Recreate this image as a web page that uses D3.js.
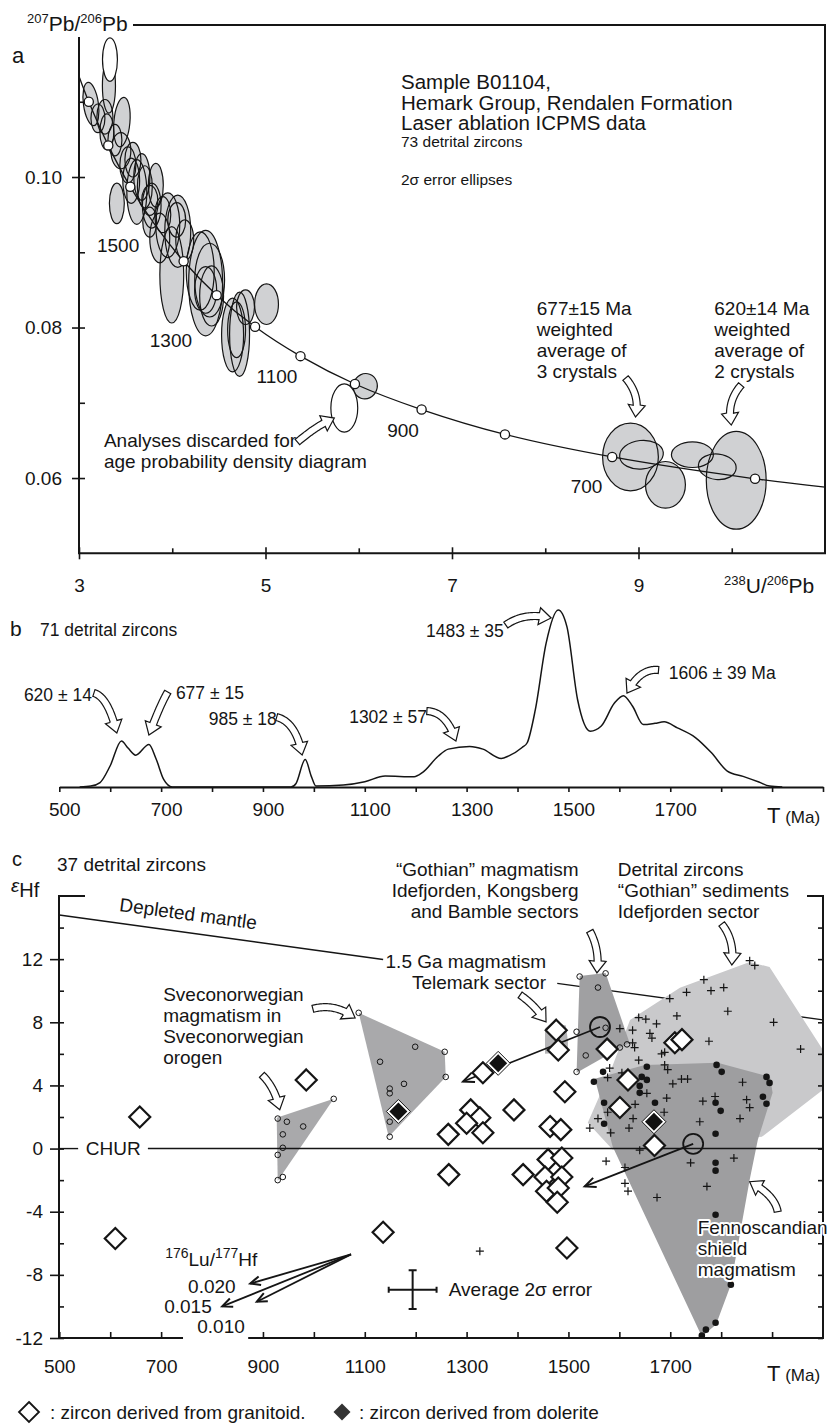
<!DOCTYPE html>
<html>
<head>
<meta charset="utf-8">
<script src="https://cdn.jsdelivr.net/npm/d3@7"></script>
<style>
  body { margin: 0; background: #fff; }
  svg { display: block; }
  text { font-family: "Liberation Sans", Arial, Helvetica, sans-serif; fill: #151515; }
</style>
</head>
<body>
<script>
// ---------- panel a : Tera-Wasserburg concordia ----------
const concAge = [1855, 1800, 1700, 1600, 1500, 1400, 1300, 1200, 1100, 1000, 900, 800, 700, 600, 561];
const concU   = [3.00, 3.105, 3.314, 3.550, 3.817, 4.122, 4.476, 4.888, 5.375, 5.959, 6.674, 7.568, 8.718, 10.25, 11.0];
const concPb  = [0.1134, 0.1100, 0.1042, 0.0987, 0.0936, 0.0888, 0.0843, 0.0801, 0.0762, 0.0725, 0.0691, 0.0658, 0.0628, 0.0599, 0.0588];
const markedAges = [1800, 1700, 1600, 1400, 1300, 1200, 1100, 1000, 900, 800, 700, 600];

// 2 sigma error ellipses: centre, half axes, tilt (deg)
const ellU   = [3.321,3.128,3.278,3.460,3.299,3.449,3.524,3.406,3.620,3.674,3.706,3.824,3.759,3.952,4.059,4.048,3.866,3.995,4.358,4.401,4.358,4.647,4.722,4.786,5.011,6.070,8.914,9.032,9.289,9.578,10.048,9.845,3.203,3.385,3.578,3.759,3.898,4.134,4.422,4.690,3.560,3.780,4.300];
const ellPb  = [0.1121,0.1097,0.1080,0.1073,0.1060,0.1035,0.1016,0.0965,0.0980,0.1000,0.0987,0.0989,0.0940,0.0936,0.0928,0.0943,0.0919,0.0870,0.0859,0.0863,0.0850,0.0790,0.0791,0.0827,0.0831,0.0722,0.0628,0.0631,0.0591,0.0631,0.0597,0.0615,0.1078,0.1049,0.1023,0.0969,0.0950,0.0916,0.0842,0.0797,0.0995,0.0962,0.0875];
const ellRu  = [0.070,0.080,0.086,0.086,0.075,0.107,0.086,0.080,0.107,0.086,0.080,0.080,0.075,0.128,0.139,0.096,0.107,0.128,0.182,0.160,0.118,0.118,0.107,0.096,0.128,0.128,0.299,0.235,0.214,0.225,0.321,0.203,0.075,0.075,0.086,0.086,0.086,0.096,0.128,0.096,0.090,0.100,0.150];
const ellRpb = [0.0036,0.0029,0.0023,0.0033,0.0024,0.0024,0.0024,0.0027,0.0043,0.0031,0.0028,0.0029,0.0020,0.0043,0.0048,0.0023,0.0033,0.0064,0.0070,0.0049,0.0031,0.0049,0.0056,0.0023,0.0027,0.0017,0.0045,0.0019,0.0031,0.0017,0.0065,0.0017,0.0019,0.0021,0.0023,0.0020,0.0024,0.0027,0.0040,0.0037,0.0030,0.0030,0.0052];
const ellRot = [0,-8,0,5,0,0,0,0,0,0,0,0,0,0,0,0,0,0,0,0,0,0,0,0,0,20,0,-6,0,0,0,6,0,0,0,0,0,0,0,0,0,0,0];
// discarded analyses (white)
const discU = [3.332, 5.845], discPb = [0.1156, 0.0693], discRu = [0.080, 0.144], discRpb = [0.0029, 0.0032];

const xTicksA = [3, 5, 7, 9], xMinorA = [4, 6, 8, 10];
const yTicksA = [0.06, 0.08, 0.10], yMinorA = [0.07, 0.09, 0.11];

// ---------- panel b : age probability density ----------
const densT = [540,562,580,600,622,635,650,676,690,705,722,800,955,965,983,995,1004,1058,1100,1140,1197,1213,1244,1264,1306,1332,1368,1383,1409,1419,1435,1456,1480,1497,1518,1543,1564,1590,1608,1626,1647,1670,1688,1714,1750,1781,1812,1843,1874,1895,1920];
const densH = [0,0.5,2.5,12,26,22,18,24,16,4.3,0,0,0,2,15.6,6,0.5,1.1,3,6.2,5.8,8.1,17.4,21.4,22.9,21.4,16.1,17.6,22.3,25,43.7,81,100,90.6,49.3,31.5,34.3,47.3,51.6,45.6,35.3,36,36.8,33.4,27.8,19.3,9,6,2.8,0.5,0];
const xTicksB = [500,600,700,800,900,1000,1100,1200,1300,1400,1500,1600,1700,1800,1900,2000];
const xLabelsB = [500, 700, 900, 1100, 1300, 1500, 1700];

// ---------- panel c : epsilon Hf vs age ----------
const granT = [658,610,1136,985,1476,1480,1332,1576,1493,1308,1326,1393,1300,1264,1332,1464,1485,1617,1601,1669,1709,1723,1265,1411,1460,1487,1454,1487,1457,1480,1478,1497];
const granE = [2.0,-5.7,-5.3,4.35,7.5,6.25,4.8,6.3,3.6,2.45,1.95,2.45,1.6,0.9,1.0,1.4,1.2,4.35,2.6,0.2,6.7,6.9,-1.65,-1.65,-0.7,-0.6,-1.8,-1.8,-2.7,-2.5,-3.4,-6.3];
const dolT = [1166, 1362, 1668];
const dolE = [2.35, 5.4, 1.7];
const sveT = [929,947,979,939,939,929,939,929,1039, 1088,1130,1199,1177,1149,1149,1149,1149,1257,1259, 1522,1573,1558,1516,1534,1573,1516,1601,1615];
const sveE = [1.9,1.7,1.4,0.9,0.05,-0.4,-1.8,-2.0,3.15, 8.6,5.5,6.45,4.1,3.8,3.5,1.7,0.75,6.13,4.54, 10.9,11.1,10.2,7.4,5.9,7.65,4.86,6.4,6.6];
const fennT = [1791,1801,1889,1895,1889,1882,1654,1644,1654,1640,1640,1568,1550,1670,1570,1570,1789,1799,1789,1789,1789,1789,1819,1789,1770,1762];
const fennE = [5.3,4.86,4.54,4.16,2.84,3.28,5.18,4.54,4.35,3.97,3.53,4.86,4.23,2.9,2.9,1.57,2.9,2.39,0.94,-0.9,-1.4,-4.19,-8.62,-11.03,-11.47,-11.85];
const detT = [1856,1866,1766,1732,1780,1805,1699,1713,1813,1903,1956,1638,1652,1673,1601,1626,1660,1664,1626,1630,1776,1683,1689,1638,1689,1695,1581,1577,1605,1722,1734,1705,1842,1654,1693,1764,1788,1850,1856,1542,1558,1577,1619,1583,1627,1631,1688,1758,1837,1640,1574,1611,1740,1825,1772,1611,1617,1674,1326];
const detE = [11.9,11.6,10.7,9.9,10.0,10.2,9.5,8.4,8.7,8.0,6.3,8.3,8.2,7.9,7.6,7.5,7.3,7.0,6.7,6.4,6.8,6.0,6.1,5.6,5.3,5.0,5.1,4.5,4.8,4.4,4.4,4.1,4.2,3.5,3.2,3.0,3.3,3.1,2.6,1.3,1.9,2.3,1.3,1.0,1.9,2.8,2.3,1.7,1.9,-0.1,-0.8,-1.2,-0.9,-0.6,-2.4,-2.2,-2.7,-3.1,-6.5];
const polySveA = [[927,1.95],[1039,3.15],[929,-2.04]];
const polySveB = [[1088,8.6],[1257,6.13],[1259,4.54],[1147,0.75]];
const polyGoth = [[1522,10.94],[1573,11.13],[1620,6.7],[1516,4.8]];
const polyTele = [[1454,7.6],[1468,8.0],[1495,7.8],[1499,6.8],[1499,6.1],[1454,6.0]];
const polyDetr = [[1538,1.63],[1585,5.11],[1621,8.15],[1719,10.18],[1856,11.82],[1895,11.5],[2000,6.25],[2000,3.72],[1880,0.75],[1587,-0.08]];
const polyFenn = [[1552,4.42],[1650,5.3],[1793,5.43],[1896,4.54],[1901,3.53],[1872,0.56],[1856,-1.97],[1819,-8.62],[1790,-11.15],[1762,-11.9],[1587,0.11]];
const depletedMantle = [[500, 14.8], [2000, 8.15]];
const hfMeans = [[1562, 7.7], [1745, 0.3]];
const hfMeanShift = [[1293, 4.25], [1532, -2.4]];
const luOrigin = [1073, -6.7];
const luTips = [[875, -8.55], [820, -10.0], [888, -9.7]];
const errCentre = [1194, -8.94], errT = 47, errE = 1.23;
const yTicksC = [-12, -8, -4, 0, 4, 8, 12], yMinorC = [-10, -6, -2, 2, 6, 10, 14];
const xTicksC = [500,600,700,900,1000,1100,1200,1300,1400,1500,1600,1700,1800,1900];
const xLabelsC = [500, 700, 900, 1100, 1300, 1500, 1700];

// ================================================================
const W = 827, H = 1425, ink = '#151515';
const svg = d3.select('body').append('svg').attr('width', W).attr('height', H);

function block(g, x, y, arr, size, lh, anchor) {
  const t = g.append('text').attr('x', x).attr('y', y).attr('font-size', size)
    .attr('text-anchor', anchor || 'start');
  arr.forEach((s, i) => t.append('tspan').attr('x', x).attr('dy', i ? lh : 0).text(s));
  return t;
}

// hollow curved arrow along a quadratic curve
function fatArrow(g, p0, p1, p2, sw, hw, hl) {
  sw = sw || 7; hw = hw || 17; hl = hl || 12;
  const n = 40;
  const pts = d3.range(n + 1).map(i => {
    const t = i / n, u = 1 - t;
    return [u*u*p0[0] + 2*u*t*p1[0] + t*t*p2[0], u*u*p0[1] + 2*u*t*p1[1] + t*t*p2[1]];
  });
  const len = [0];
  for (let i = 1; i <= n; i++) len.push(len[i-1] + Math.hypot(pts[i][0]-pts[i-1][0], pts[i][1]-pts[i-1][1]));
  const stop = len[n] - hl, shaft = [];
  for (let i = 0; i <= n; i++) {
    if (len[i] < stop) { shaft.push(pts[i]); continue; }
    const f = (stop - len[i-1]) / (len[i] - len[i-1]);
    shaft.push([pts[i-1][0] + f*(pts[i][0]-pts[i-1][0]), pts[i-1][1] + f*(pts[i][1]-pts[i-1][1])]);
    break;
  }
  const nrm = (a, b) => { const dx = b[0]-a[0], dy = b[1]-a[1], l = Math.hypot(dx, dy) || 1; return [-dy/l, dx/l]; };
  const L = [], R = [];
  shaft.forEach((p, i) => {
    const nn = nrm(shaft[Math.max(0, i-1)], shaft[Math.min(shaft.length-1, i+1)]);
    L.push([p[0] + nn[0]*sw/2, p[1] + nn[1]*sw/2]);
    R.push([p[0] - nn[0]*sw/2, p[1] - nn[1]*sw/2]);
  });
  const b = shaft[shaft.length-1], nb = nrm(b, p2);
  const poly = L.concat([[b[0]+nb[0]*hw/2, b[1]+nb[1]*hw/2], p2, [b[0]-nb[0]*hw/2, b[1]-nb[1]*hw/2]], R.reverse());
  g.append('path').attr('d', 'M' + poly.map(p => p.join(',')).join('L') + 'Z')
    .attr('fill', '#fff').attr('stroke', ink).attr('stroke-width', 1.2);
}

function chevron(g, from, tip, s) {
  const a = Math.atan2(tip[1]-from[1], tip[0]-from[0]), sp = 0.42;
  s = s || 11;
  const p1 = [tip[0] - s*Math.cos(a - sp), tip[1] - s*Math.sin(a - sp)];
  const p2 = [tip[0] - s*Math.cos(a + sp), tip[1] - s*Math.sin(a + sp)];
  g.append('path').attr('d', `M${p1}L${tip}L${p2}`).attr('fill', 'none')
    .attr('stroke', ink).attr('stroke-width', 2);
}

function supLabel(g, x, y, parts, big, small) {
  const t = g.append('text').attr('x', x).attr('y', y);
  parts.forEach(p => {
    t.append('tspan').attr('font-size', p[1] ? small : big)
      .attr('dy', p[1] ? -big * 0.38 : (p[2] ? big * 0.38 : 0)).text(p[0]);
  });
  return t;
}

// ======================= panel a =======================
const xa = d3.scaleLinear().domain([3, 11]).range([79, 825]);
const ya = d3.scaleLinear().domain([0.05, 0.12]).range([553.3, 26.5]);
const gA = svg.append('g');
const pa = (u, p) => [xa(u), ya(p)];

const ells = ellU.map((u, i) => ({
  cx: xa(u), cy: ya(ellPb[i]),
  rx: xa(u + ellRu[i]) - xa(u), ry: ya(ellPb[i]) - ya(ellPb[i] + ellRpb[i]),
  rot: ellRot[i] || 0
}));
const tr = d => `rotate(${d.rot},${d.cx},${d.cy})`;
gA.append('g').selectAll('ellipse').data(ells).join('ellipse')
  .attr('cx', d => d.cx).attr('cy', d => d.cy).attr('rx', d => d.rx).attr('ry', d => d.ry)
  .attr('transform', tr).attr('fill', '#d0d1d3');
gA.append('g').selectAll('ellipse').data(ells).join('ellipse')
  .attr('cx', d => d.cx).attr('cy', d => d.cy).attr('rx', d => d.rx).attr('ry', d => d.ry)
  .attr('transform', tr).attr('fill', 'none').attr('stroke', ink).attr('stroke-width', 1.2);

const disc = discU.map((u, i) => ({cx: xa(u), cy: ya(discPb[i]),
  rx: xa(u + discRu[i]) - xa(u), ry: ya(discPb[i]) - ya(discPb[i] + discRpb[i])}));
gA.append('g').selectAll('ellipse').data(disc).join('ellipse')
  .attr('cx', d => d.cx).attr('cy', d => d.cy).attr('rx', d => d.rx).attr('ry', d => d.ry)
  .attr('fill', '#fff').attr('stroke', ink).attr('stroke-width', 1.2);

gA.append('path')
  .attr('d', d3.line().curve(d3.curveCatmullRom)(concU.map((u, i) => pa(u, concPb[i]))))
  .attr('fill', 'none').attr('stroke', ink).attr('stroke-width', 1.3);
gA.append('g').selectAll('circle').data(markedAges).join('circle')
  .attr('cx', a => xa(concU[concAge.indexOf(a)])).attr('cy', a => ya(concPb[concAge.indexOf(a)]))
  .attr('r', 4.6).attr('fill', '#fff').attr('stroke', ink).attr('stroke-width', 1.3);

// frame + axes
gA.append('path').attr('d', `M79,37V${ya(0.05)}H825V25H133`)
  .attr('fill', 'none').attr('stroke', ink).attr('stroke-width', 2);
const axA = gA.append('g').attr('transform', `translate(0,${ya(0.05)})`).attr('color', ink)
  .call(d3.axisBottom(xa).tickValues(xTicksA).tickSize(6).tickPadding(19).tickFormat(d3.format('d')));
axA.selectAll('.tick line').attr('y1', -6).attr('stroke-width', 1.6);
axA.append('g').call(d3.axisBottom(xa).tickValues(xMinorA).tickSize(-5).tickFormat(''))
  .selectAll('line').attr('stroke-width', 1.6);
const ayA = gA.append('g').attr('transform', 'translate(79,0)').attr('color', ink)
  .call(d3.axisLeft(ya).tickValues(yTicksA).tickSize(7).tickPadding(10).tickFormat(d3.format('.2f')));
ayA.selectAll('.tick line').attr('x1', 6).attr('stroke-width', 1.6);
ayA.append('g').call(d3.axisLeft(ya).tickValues(yMinorA).tickSize(-6).tickFormat(''))
  .selectAll('line').attr('stroke-width', 1.6);
gA.selectAll('.domain').remove();
gA.selectAll('.tick text').attr('font-size', 19);

supLabel(gA, 27, 31, [['207', 1], ['Pb', 0, 1], ['/', 0], ['206', 1], ['Pb', 0, 1]], 21, 13);
supLabel(gA, 724, 593, [['238', 1], ['U', 0, 1], ['/', 0], ['206', 1], ['Pb', 0, 1]], 21, 13);
gA.append('text').attr('x', 12).attr('y', 63).attr('font-size', 22).text('a');
block(gA, 401, 89, ['Sample B01104,', 'Hemark Group, Rendalen Formation', 'Laser ablation ICPMS data'], 20.5, 20.5);
gA.append('text').attr('x', 401).attr('y', 147).attr('font-size', 15.5).text('73 detrital zircons');
gA.append('text').attr('x', 401).attr('y', 185).attr('font-size', 15.5).text('2\u03c3 error ellipses');

[['1500', 3.193, 0.0900], ['1300', 3.759, 0.0774], ['1100', 4.904, 0.0726], ['900', 6.305, 0.06545], ['700', 8.273, 0.0580]]
  .forEach(l => gA.append('text').attr('x', xa(l[1])).attr('y', ya(l[2])).attr('font-size', 19).text(l[0]));
block(gA, xa(3.267), ya(0.06412), ['Analyses discarded for', 'age probability density diagram'], 19, 21);
block(gA, xa(7.909), ya(0.08166), ['677\u00b115 Ma', 'weighted', 'average of', '3 crystals'], 19, 21);
block(gA, xa(9.813), ya(0.08166), ['620\u00b114 Ma', 'weighted', 'average of', '2 crystals'], 19, 21);
fatArrow(gA, pa(5.342, 0.06478), pa(5.556, 0.06704), pa(5.738, 0.06797));
fatArrow(gA, pa(8.861, 0.07329), pa(9.021, 0.07103), pa(8.968, 0.06811));
fatArrow(gA, pa(10.102, 0.07236), pa(9.941, 0.07010), pa(9.995, 0.06704));

// ======================= panel b =======================
const xb = d3.scaleLinear().domain([500, 2000]).range([59.3, 823]);
const yb = d3.scaleLinear().domain([0, 100]).range([787, 610]);
const gB = svg.append('g');
const pb = (t, h) => [xb(t), yb(h)];
gB.append('path')
  .attr('d', d3.line().x((t) => xb(t)).y((t, i) => yb(densH[i])).curve(d3.curveMonotoneX)(densT))
  .attr('fill', 'none').attr('stroke', ink).attr('stroke-width', 1.5);
const axB = gB.append('g').attr('transform', 'translate(0,787)').attr('color', ink)
  .call(d3.axisBottom(xb).tickValues(xTicksB).tickSize(5).tickSizeOuter(0).tickPadding(11)
    .tickFormat(d => xLabelsB.includes(d) ? d : ''));
axB.select('.domain').attr('stroke-width', 2);
axB.selectAll('.tick line').attr('stroke-width', 1.6);
axB.selectAll('.tick text').attr('font-size', 19).attr('dx', 5);

gB.append('text').attr('x', 10).attr('y', 636).attr('font-size', 21).text('b');
gB.append('text').attr('x', 40).attr('y', 636).attr('font-size', 17.5).text('71 detrital zircons');
gB.append('text').attr('x', 767).attr('y', 823).attr('font-size', 22).text('T')
  .append('tspan').attr('font-size', 17).text(' (Ma)');
[['1483 \u00b1 35', 1373, 84.7], ['1302 \u00b1 57', 1222, 36.2], ['985 \u00b1 18', 927, 35], ['620 \u00b1 14', 564, 48.6]]
  .forEach(l => gB.append('text').attr('x', xb(l[1])).attr('y', yb(l[2])).attr('text-anchor', 'end').attr('font-size', 17.5).text(l[0]));
[['677 \u00b1 15', 729, 49.7], ['1606 \u00b1 39 Ma', 1697, 61]]
  .forEach(l => gB.append('text').attr('x', xb(l[1])).attr('y', yb(l[2])).attr('font-size', 17.5).text(l[0]));
fatArrow(gB, pb(1377, 91.5), pb(1414, 99), pb(1466, 95.5));
fatArrow(gB, pb(1677, 66.1), pb(1640, 67.2), pb(1615, 53.1));
fatArrow(gB, pb(568, 53.1), pb(596, 50.8), pb(613, 30.5));
fatArrow(gB, pb(713, 53.7), pb(698, 46.3), pb(676, 29.4));
fatArrow(gB, pb(927, 39.5), pb(965, 36.7), pb(977, 18.1));
fatArrow(gB, pb(1222, 42.9), pb(1261, 42.4), pb(1279, 26));

// ======================= panel c =======================
const xc = d3.scaleLinear().domain([500, 2000]).range([59.3, 823]);
const yc = d3.scaleLinear().domain([-12, 16]).range([1338, 896]);
const gC = svg.append('g');
const pc = (t, e) => [xc(t), yc(e)];
const dmAt = t => d3.interpolateNumber(depletedMantle[0][1], depletedMantle[1][1])((t - 500) / 1500);

// depleted mantle (broken for the 1.5 Ga label)
[[500, 1136], [1478, 2000]].forEach(s => gC.append('line')
  .attr('x1', xc(s[0])).attr('y1', yc(dmAt(s[0]))).attr('x2', xc(s[1])).attr('y2', yc(dmAt(s[1])))
  .attr('stroke', ink).attr('stroke-width', 1.4));

const polyLine = d3.line().x(d => xc(d[0])).y(d => yc(d[1]));
gC.append('clipPath').attr('id', 'clipc').append('rect')
  .attr('x', xc(500)).attr('y', yc(16)).attr('width', xc(2000) - xc(500)).attr('height', yc(-12) - yc(16));
const gP = gC.append('g').attr('clip-path', 'url(#clipc)');
[[polyDetr, '#c9c9cb'], [polyFenn, '#9e9ea0'], [polySveA, '#a9a9ab'], [polySveB, '#a9a9ab'],
 [polyGoth, '#a0a0a2'], [polyTele, '#b4b4b6']]
  .forEach(p => gP.append('path').attr('d', polyLine(p[0]) + 'Z').attr('fill', p[1]));

// CHUR
[[500, 537], [674, 2000]].forEach(s => gC.append('line')
  .attr('x1', xc(s[0])).attr('x2', xc(s[1])).attr('y1', yc(0)).attr('y2', yc(0))
  .attr('stroke', ink).attr('stroke-width', 1.4));

// mean-vector lines
hfMeans.forEach((m, i) => {
  gC.append('line').attr('x1', xc(m[0])).attr('y1', yc(m[1]))
    .attr('x2', xc(hfMeanShift[i][0])).attr('y2', yc(hfMeanShift[i][1]))
    .attr('stroke', ink).attr('stroke-width', 1.8);
  chevron(gC, pc(m[0], m[1]), pc(hfMeanShift[i][0], hfMeanShift[i][1]), 12);
});

// crosses
gC.append('g').selectAll('path').data(detT).join('path')
  .attr('d', (t, i) => `M${xc(t) - 4},${yc(detE[i])}h8M${xc(t)},${yc(detE[i]) - 4}v8`)
  .attr('stroke', ink).attr('stroke-width', 1.2);
// filled dots
gC.append('g').selectAll('circle').data(fennT).join('circle')
  .attr('cx', t => xc(t)).attr('cy', (t, i) => yc(fennE[i])).attr('r', 3.3).attr('fill', ink);
// small open circles
gC.append('g').selectAll('circle').data(sveT).join('circle')
  .attr('cx', t => xc(t)).attr('cy', (t, i) => yc(sveE[i])).attr('r', 2.8)
  .attr('fill', 'none').attr('stroke', ink).attr('stroke-width', 1);

const dia = r => `M0,${-r}L${r},0L0,${r}L${-r},0Z`;
gC.append('g').selectAll('path').data(granT).join('path')
  .attr('transform', (t, i) => `translate(${xc(t)},${yc(granE[i])})`)
  .attr('d', dia(10.5)).attr('fill', '#fff').attr('stroke', ink).attr('stroke-width', 2.2);
const gD = gC.append('g').selectAll('g').data(dolT).join('g')
  .attr('transform', (t, i) => `translate(${xc(t)},${yc(dolE[i])})`);
gD.append('path').attr('d', dia(12)).attr('fill', '#fff').attr('stroke', ink).attr('stroke-width', 1);
gD.append('path').attr('d', dia(9)).attr('fill', '#111');

gC.append('g').selectAll('circle').data(hfMeans).join('circle')
  .attr('cx', d => xc(d[0])).attr('cy', d => yc(d[1])).attr('r', 10)
  .attr('fill', 'none').attr('stroke', ink).attr('stroke-width', 1.8);

// Lu/Hf evolution arrows
luTips.forEach(tp => {
  gC.append('line').attr('x1', xc(luOrigin[0])).attr('y1', yc(luOrigin[1]))
    .attr('x2', xc(tp[0])).attr('y2', yc(tp[1])).attr('stroke', ink).attr('stroke-width', 1.8);
  chevron(gC, pc(luOrigin[0], luOrigin[1]), pc(tp[0], tp[1]), 11);
});

// average error cross
{
  const cx = xc(errCentre[0]), cy = yc(errCentre[1]);
  const dx = xc(errCentre[0] + errT) - cx, dy = cy - yc(errCentre[1] + errE);
  gC.append('path').attr('d', `M${cx - dx},${cy}H${cx + dx}M${cx},${cy - dy}V${cy + dy}` +
      `M${cx - dx},${cy - 3}v6M${cx + dx},${cy - 3}v6M${cx - 4},${cy - dy}h8M${cx - 4},${cy + dy}h8`)
    .attr('fill', 'none').attr('stroke', ink).attr('stroke-width', 2);
}

// frame and axes
gC.append('path').attr('d', `M85,896H59V1338H${xc(743)}M${xc(871)},1338H823V896H807`)
  .attr('fill', 'none').attr('stroke', ink).attr('stroke-width', 2);
const axC = gC.append('g').attr('transform', 'translate(0,1338)').attr('color', ink)
  .call(d3.axisBottom(xc).tickValues(xTicksC).tickSize(-6).tickPadding(21.5)
    .tickFormat(d => xLabelsC.includes(d) ? d : ''));
axC.selectAll('.tick line').attr('stroke-width', 1.6);
const ayC = gC.append('g').attr('transform', 'translate(59,0)').attr('color', ink)
  .call(d3.axisLeft(yc).tickValues(yTicksC).tickSize(9).tickPadding(7).tickFormat(d => String(d)));
ayC.selectAll('.tick line').attr('x1', 5).attr('stroke-width', 1.6);
ayC.append('g').call(d3.axisLeft(yc).tickValues(yMinorC).tickSize(-5).tickFormat(''))
  .selectAll('line').attr('stroke-width', 1.6);
gC.append('g').attr('transform', 'translate(823,0)').attr('color', ink)
  .call(d3.axisRight(yc).tickValues(yMinorC.concat(yTicksC)).tickSize(-5).tickFormat(''))
  .selectAll('line').attr('stroke-width', 1.6);
gC.selectAll('.domain').remove();
gC.selectAll('.tick text').attr('font-size', 19);

// labels
gC.append('text').attr('x', 12).attr('y', 866).attr('font-size', 20).text('c');
gC.append('text').attr('x', 57).attr('y', 871).attr('font-size', 19).text('37 detrital zircons');
const eps = gC.append('text').attr('x', 11).attr('y', 892).attr('font-size', 19).attr('font-style', 'italic');
eps.append('tspan').text('\u03b5');
eps.append('tspan').attr('font-size', 20).attr('font-style', 'normal').attr('dy', 5).text('Hf');
gC.append('text').attr('x', 767).attr('y', 1381).attr('font-size', 22).text('T')
  .append('tspan').attr('font-size', 17).text(' (Ma)');
gC.append('text').attr('x', xc(552)).attr('y', yc(0)).attr('dy', '0.36em').attr('font-size', 19).text('CHUR');
{
  const p = pc(617, 15.05);
  gC.append('text').attr('x', p[0]).attr('y', p[1]).attr('font-size', 19)
    .attr('transform', `rotate(7.6,${p[0]},${p[1]})`).text('Depleted mantle');
}
block(gC, xc(704), yc(9.35), ['Sveconorwegian', 'magmatism in', 'Sveconorwegian', 'orogen'], 19, 21);
block(gC, xc(1520), yc(17.27), ['\u201cGothian\u201d magmatism', 'Idefjorden, Kongsberg', 'and Bamble sectors'], 19, 21, 'end');
block(gC, xc(1597), yc(17.27), ['Detrital zircons', '\u201cGothian\u201d sediments', 'Idefjorden sector'], 19, 21);
block(gC, xc(1456), yc(11.44), ['1.5 Ga magmatism', 'Telemark sector'], 19, 21, 'end');
block(gC, xc(1754), yc(-5.39), ['Fennoscandian', 'shield', 'magmatism'], 19, 21)
  .attr('stroke', '#fff').attr('stroke-width', 4).attr('paint-order', 'stroke').attr('stroke-linejoin', 'round');
supLabel(gC, xc(708), yc(-7.42), [['176', 1], ['Lu/', 0, 1], ['177', 1], ['Hf', 0, 1]], 19, 14);
gC.append('text').attr('x', xc(753)).attr('y', yc(-9.13)).attr('font-size', 19).text('0.020');
gC.append('text').attr('x', xc(706)).attr('y', yc(-10.39)).attr('font-size', 19).text('0.015');
gC.append('text').attr('x', xc(771)).attr('y', yc(-11.66)).attr('font-size', 19).text('0.010');
gC.append('text').attr('x', xc(1265)).attr('y', yc(-9.32)).attr('font-size', 19).text('Average 2\u03c3 error');

fatArrow(gC, pc(998, 8.85), pc(1041, 9.23), pc(1081, 8.28));
fatArrow(gC, pc(898, 4.67), pc(924, 3.85), pc(933, 2.46));
fatArrow(gC, pc(1405, 9.73), pc(1434, 9.1), pc(1456, 8.03));
fatArrow(gC, pc(1542, 13.78), pc(1562, 12.6), pc(1556, 11.13));
fatArrow(gC, pc(1801, 14.23), pc(1827, 13.2), pc(1821, 11.63));
fatArrow(gC, pc(1911, -4.0), pc(1905, -2.93), pc(1856, -2.1));

// legend
const gL = svg.append('g');
gL.append('path').attr('transform', 'translate(29,1412)').attr('d', dia(10))
  .attr('fill', '#fff').attr('stroke', ink).attr('stroke-width', 1.8);
gL.append('text').attr('x', 50).attr('y', 1419).attr('font-size', 19).text(': zircon derived from granitoid.');
gL.append('path').attr('transform', 'translate(342,1412)').attr('d', dia(8.5)).attr('fill', '#333');
gL.append('text').attr('x', 359).attr('y', 1419).attr('font-size', 19).text(': zircon derived from dolerite');
</script>
</body>
</html>
